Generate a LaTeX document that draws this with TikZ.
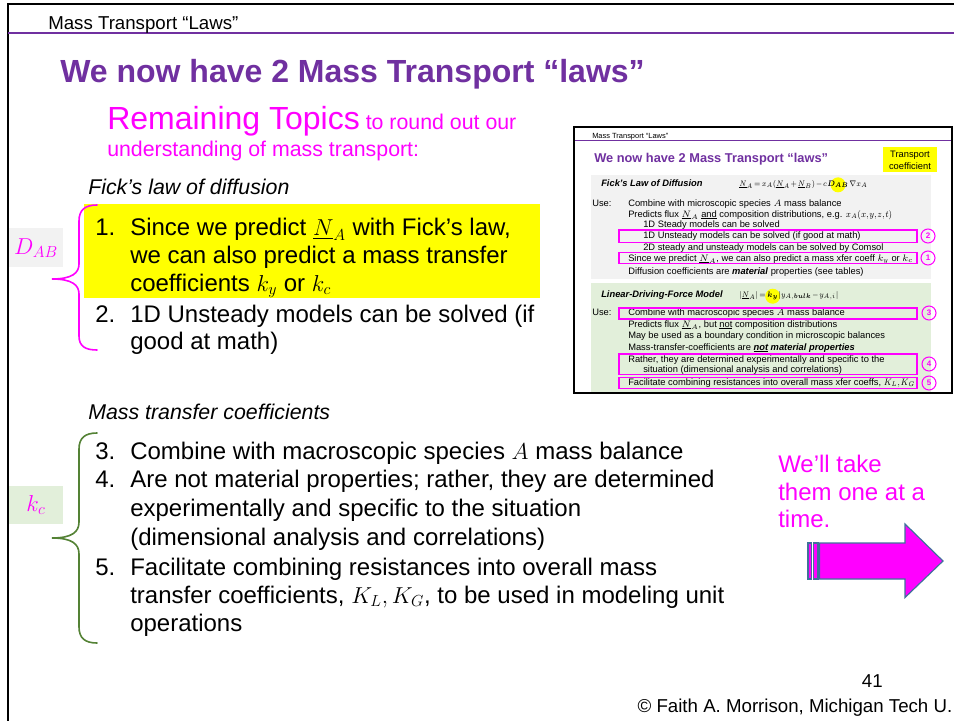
\documentclass[tikz,border=0pt]{standalone}
\usepackage{amsmath,amssymb,bm,graphicx}
\usepackage[no-math]{fontspec}
\setmainfont{Liberation Sans}
\definecolor{purp}{HTML}{7030A0}
\definecolor{mag}{HTML}{FF00FF}
\definecolor{yel}{HTML}{FFFF00}
\definecolor{lgray}{HTML}{F2F2F2}
\definecolor{lgreen}{HTML}{E2EFDA}
\definecolor{dgreen}{HTML}{548235}
\definecolor{arrowedge}{HTML}{41719C}
\newcommand{\FS}[1]{\fontsize{#1}{#1}\selectfont}
\newcommand{\tightmath}{\medmuskip=1.5mu\thickmuskip=2.5mu\thinmuskip=1mu}
\newcommand{\narroweq}[1]{\scalebox{0.85}[1]{$#1$}}
\pgfdeclarelayer{panels}
\pgfdeclarelayer{marks}
\pgfsetlayers{panels,marks,main}
\tikzset{
  txt/.style={inner sep=0pt, anchor=base west},
  big/.style={txt, font=\FS{18}},
  mini/.style={txt, font=\FS{7}\tightmath},
  eqn/.style={txt, font=\FS{6.5}\tightmath},
  magbox/.style={draw=mag, line width=0.8pt},
  numc/.style={circle, draw=mag, line width=0.8pt, minimum size=10.5pt, inner sep=0pt, text=mag, font=\FS{6}\bfseries},
  bracepen/.style={line width=1.2pt, line cap=round},
  arrowpen/.style={draw=arrowedge, fill=mag, line width=0.9pt, line join=miter}
}
\begin{document}
\begin{tikzpicture}[x=0.75pt,y=-0.75pt]
\useasboundingbox (0,0) rectangle (954,721);
\begin{pgfonlayer}{panels}
\fill[white] (0,0) rectangle (954,721);
\end{pgfonlayer}

% slide frame and header rule
\draw[line width=1.5pt] (7,3.5) -- (954,3.5);
\draw[line width=1.5pt] (8,3) -- (8,721);
\draw[purp, line width=1.5pt] (8,33) -- (954,33);
\node[txt, font=\FS{14}] (hdr) at (48,29) {Mass Transport “Laws”};

% title and subtitle
\node[txt, font=\FS{24}\bfseries, text=purp] (title) at (60,82) {We now have 2 Mass Transport “laws”};
\node[txt, font=\FS{16}, text=mag] (rem) at (107,129) {{\FS{24}Remaining Topics} to round out our};
\node[txt, font=\FS{16}, text=mag] (rem2) at (107,156) {understanding of mass transport:};

% Fick's law group
\node[txt, font=\FS{16}\itshape] (fick) at (88,194) {Fick’s law of diffusion};
\begin{pgfonlayer}{panels}
\fill[yel] (84,204) rectangle (540,298);
\end{pgfonlayer}
\node[big] (n1) at (95,235) {1.};
\node[big] (i1a) at (130,235) {Since we predict $\underline{N}_A$ with Fick’s law,};
\node[big] (i1b) at (130,263) {we can also predict a mass transfer};
\node[big] (i1c) at (130,291) {coefficients $k_y$ or $k_c$};
\node[big] (n2) at (95,322) {2.};
\node[big] (i2a) at (130,322) {1D Unsteady models can be solved (if};
\node[big] (i2b) at (130,349) {good at math)};

\draw[bracepen, mag] (97,205) .. controls (85,205) and (79,210) .. (79,221) -- (79,264)
  .. controls (79,273) and (72,279) .. (52,279)
  .. controls (72,279) and (79,285) .. (79,294) -- (79,336)
  .. controls (79,346) and (85,350) .. (97,350);
\begin{pgfonlayer}{panels}
\fill[lgray] (9,228) rectangle (63,267);
\end{pgfonlayer}
\node[font=\FS{18}, text=mag, inner sep=0pt] (dab) at (36,248) {$D_{AB}$};

% mass transfer coefficient group
\node[txt, font=\FS{16}\itshape] (mtc) at (88,419) {Mass transfer coefficients};
\node[big] (n3) at (95,459) {3.};
\node[big] (i3) at (130,459) {Combine with macroscopic species $A$ mass balance};
\node[big] (n4) at (95,487) {4.};
\node[big] (i4a) at (130,487) {Are not material properties; rather, they are determined};
\node[big] (i4b) at (130,516) {experimentally and specific to the situation};
\node[big] (i4c) at (130,545) {(dimensional analysis and correlations)};
\node[big] (n5) at (95,575) {5.};
\node[big] (i5a) at (130,575) {Facilitate combining resistances into overall mass};
\node[big] (i5b) at (130,603) {transfer coefficients, $K_L, K_G$, to be used in modeling unit};
\node[big] (i5c) at (130,631) {operations};

\draw[bracepen, dgreen] (97,433) .. controls (85,433) and (79,438) .. (79,449) -- (79,522)
  .. controls (79,532) and (72,538) .. (52,538)
  .. controls (72,538) and (79,544) .. (79,554) -- (79,627)
  .. controls (79,638) and (85,643) .. (97,643);
\begin{pgfonlayer}{panels}
\fill[lgreen] (9,486) rectangle (63,524);
\end{pgfonlayer}
\node[font=\FS{18}, text=mag, inner sep=0pt] (kc) at (36,505) {$k_c$};

% side note and block arrow
\node[big, text=mag] (wt1) at (778,472) {We’ll take};
\node[big, text=mag] (wt2) at (778,500) {them one at a};
\node[big, text=mag] (wt3) at (778,527) {time.};
\draw[arrowpen] (808,543) rectangle (811.5,579);
\draw[arrowpen] (813.5,543) rectangle (818,579);
\draw[arrowpen] (819.5,543) -- (905,543) -- (905,524) -- (943,561) -- (905,597.5) -- (905,579) -- (819.5,579) -- cycle;

% footer
\node[txt, anchor=base east, font=\FS{14}] (pg) at (883,687) {41};
\node[txt, anchor=base east, font=\FS{14}] (copy) at (952.5,712) {© Faith A. Morrison, Michigan Tech U.};

% ---- thumbnail of the summary slide ----
\begin{pgfonlayer}{panels}
\fill[white] (574,127) rectangle (952,393);
\fill[lgray] (591,175) rectangle (931,279);
\fill[lgreen] (591,283) rectangle (931,392);
\fill[yel] (883,147) rectangle (937,172);
\end{pgfonlayer}
\draw[line width=1pt] (574,127) rectangle (952,393);
\draw[purp, line width=0.8pt] (575,140.5) -- (951,140.5);
\node[txt, font=\FS{5.6}] (shdr) at (592,138) {Mass Transport “Laws”};
\node[txt, font=\FS{9.6}\bfseries, text=purp] (stitle) at (594,162) {We now have 2 Mass Transport “laws”};
\node[txt, anchor=base, font=\FS{7}] (tc1) at (910,157) {Transport};
\node[txt, anchor=base, font=\FS{7}] (tc2) at (910,169) {coefficient};

% diffusion panel
\node[txt, font=\FS{7}\bfseries\itshape] (sfick) at (601,186) {Fick’s Law of Diffusion};
\node[eqn] (seq1) at (739,186) {\narroweq{\underline{N}_A = x_A(\underline{N}_A+\underline{N}_B) - c}};
\node[eqn] (seq1d) at (seq1.base east) {\narroweq{\bm{D}_{\bm{AB}}}};
\node[eqn] (seq1e) at (seq1d.base east) {\narroweq{\nabla x_A}};
\begin{pgfonlayer}{marks}
\fill[yel] ([yshift=-0.5pt]seq1d.center) circle (7.5);
\end{pgfonlayer}
\node[mini] (use1) at (592,206) {Use:};
\node[mini] (s1) at (628,206) {Combine with microscopic species $A$ mass balance};
\node[mini] (s2) at (628,217) {Predicts flux $\underline{N}_A$ \underline{and} composition distributions, e.g. \narroweq{x_A(x,y,z,t)}};
\node[mini] (s3) at (643,227.5) {1D Steady models can be solved};
\node[mini] (s4) at (643,238.5) {1D Unsteady models can be solved (if good at math)};
\node[mini] (s5) at (643,250) {2D steady and unsteady models can be solved by Comsol};
\node[mini] (s6) at (628,261) {Since we predict $\underline{N}_A$, we can also predict a mass xfer coeff $k_y$ or $k_c$};
\node[mini] (s7) at (628,274) {Diffusion coefficients are \textbf{\textit{material}} properties (see tables)};
\draw[magbox] (619,230) rectangle (917,242.5);
\draw[magbox] (619,252.5) rectangle (917,263.5);
\node[numc] (c2) at (928,236) {2};
\node[numc] (c1) at (928,258) {1};

% driving-force panel
\node[txt, font=\FS{7}\bfseries\itshape] (sldf) at (601,297) {Linear-Driving-Force Model};
\node[eqn] (seq2) at (739,297) {\narroweq{|\underline{N}_A| = {}}};
\node[eqn] (seq2k) at (seq2.base east) {\narroweq{\bm{k}_{\bm{y}}}};
\node[eqn] (seq2e) at (seq2k.base east) {\narroweq{|y_{A,\bm{bulk}} - y_{A,i}|}};
\begin{pgfonlayer}{marks}
\fill[yel] ([yshift=-0.5pt]seq2k.center) circle (7.5);
\end{pgfonlayer}
\node[mini] (use2) at (592,315) {Use:};
\node[mini] (g1) at (628,315) {Combine with macroscopic species $A$ mass balance};
\node[mini] (g2) at (628,327) {Predicts flux $\underline{N}_A$, but \underline{not} composition distributions};
\node[mini] (g3) at (628,338.5) {May be used as a boundary condition in microscopic balances};
\node[mini] (g4) at (628,350) {Mass-transfer-coefficients are \textbf{\textit{\underline{not} material properties}}};
\node[mini] (g5) at (628,362) {Rather, they are determined experimentally and specific to the};
\node[mini] (g6) at (643,372) {situation (dimensional analysis and correlations)};
\node[mini] (g7) at (628,385.5) {Facilitate combining resistances into overall mass xfer coeffs, \narroweq{K_L,K_G}};
\draw[magbox] (619,308) rectangle (917,319);
\draw[magbox] (619,354) rectangle (917,374.5);
\draw[magbox] (619,377.5) rectangle (917,388.5);
\node[numc] (c3) at (929,313) {3};
\node[numc] (c4) at (929,364) {4};
\node[numc] (c5) at (929,383) {5};
\end{tikzpicture}
\end{document}
